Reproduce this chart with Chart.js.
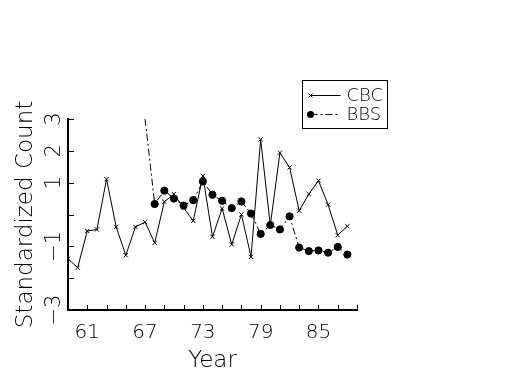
<!DOCTYPE html>
<html>
<head>
<meta charset="utf-8">
<script src="https://cdn.jsdelivr.net/npm/chart.js@4.4.1/dist/chart.umd.min.js"></script>
<style>
  html, body { margin: 0; padding: 0; background: #fff; }
  #wrap { width: 525px; height: 375px; }
</style>
</head>
<body>
<div id="wrap"><canvas id="c" width="525" height="375"></canvas></div>
<script>
// years and standardized counts
const cbcYears = [59, 60, 61, 62, 63, 64, 65, 66, 67, 68, 69, 70, 71, 72, 73, 74, 75, 76, 77, 78, 79, 80, 81, 82, 83, 84, 85, 86, 87, 88];
const cbcValues = [-1.39, -1.67, -0.52, -0.47, 1.11, -0.39, -1.28, -0.39, -0.24, -0.89, 0.40, 0.64, 0.21, -0.20, 1.21, -0.70, 0.19, -0.94, 0.00, -1.33, 2.36, -0.34, 1.94, 1.48, 0.12, 0.64, 1.06, 0.31, -0.65, -0.37];
const bbsYears = [67, 68, 69, 70, 71, 72, 73, 74, 75, 76, 77, 78, 79, 80, 81, 82, 83, 84, 85, 86, 87, 88];
const bbsValues = [3.0, 0.33, 0.75, 0.50, 0.28, 0.45, 1.04, 0.62, 0.43, 0.20, 0.41, 0.03, -0.61, -0.33, -0.47, -0.06, -1.04, -1.15, -1.13, -1.20, -1.02, -1.26];
const xTickLabels = [61, 67, 73, 79, 85];
const yTickLabels = [3, 2, 1, -1, -3];
const seriesNames = ['CBC', 'BBS'];

const FONT = "'DejaVu Sans', sans-serif";

// tick marks drawn inside the axes, y labels rotated, boxed legend
const axesDecor = {
  id: 'axesDecor',
  afterDraw(chart) {
    const ctx = chart.ctx;
    const xs = chart.scales.x, ys = chart.scales.y;
    const a = chart.chartArea;
    ctx.save();
    ctx.strokeStyle = '#000';
    ctx.lineWidth = 1;
    ctx.beginPath();
    xs.ticks.forEach(t => {
      const px = Math.round(xs.getPixelForValue(t.value)) + 0.5;
      ctx.moveTo(px, a.bottom);
      ctx.lineTo(px, a.bottom - 5);
    });
    ys.ticks.forEach(t => {
      const py = Math.round(ys.getPixelForValue(t.value)) + 0.5;
      ctx.moveTo(a.left, py);
      ctx.lineTo(a.left + 6, py);
    });
    ctx.stroke();

    ctx.fillStyle = '#000';
    ctx.font = "200 21px " + FONT;
    ctx.textAlign = 'center';
    ctx.textBaseline = 'middle';
    yTickLabels.forEach(v => {
      const py = ys.getPixelForValue(v);
      ctx.save();
      ctx.translate(55, py);
      ctx.rotate(-Math.PI / 2);
      ctx.fillText(v < 0 ? '\u2212' + Math.abs(v) : String(v), 0, 0);
      ctx.restore();
    });

    // legend
    const bx = 302.5, by = 80.5, bw = 85, bh = 48;
    ctx.lineWidth = 1;
    ctx.strokeRect(bx, by, bw, bh);
    ctx.font = "200 18px " + FONT;
    ctx.textAlign = 'left';
    chart.data.datasets.forEach((ds, i) => {
      const ly = by + 15 + i * 19;
      ctx.save();
      ctx.strokeStyle = '#000';
      ctx.lineWidth = 1;
      ctx.setLineDash(ds.borderDash || []);
      ctx.beginPath();
      ctx.moveTo(bx + 8, ly);
      ctx.lineTo(bx + 38, ly);
      ctx.stroke();
      ctx.setLineDash([]);
      if (i === 0) {
        ctx.beginPath();
        ctx.moveTo(bx + 6, ly - 2); ctx.lineTo(bx + 10, ly + 2);
        ctx.moveTo(bx + 6, ly + 2); ctx.lineTo(bx + 10, ly - 2);
        ctx.stroke();
      } else {
        ctx.beginPath();
        ctx.arc(bx + 8, ly, 3.5, 0, Math.PI * 2);
        ctx.fill();
      }
      ctx.restore();
      ctx.fillText(seriesNames[i], bx + 44, ly + 1);
    });
    ctx.restore();
  }
};

new Chart(document.getElementById('c'), {
  type: 'line',
  data: {
    datasets: [
      {
        label: seriesNames[0],
        data: cbcYears.map((x, i) => ({ x: x, y: cbcValues[i] })),
        borderColor: '#000',
        borderWidth: 1,
        pointStyle: 'crossRot',
        pointRadius: 3,
        pointBorderColor: '#000',
        pointBorderWidth: 1,
        tension: 0
      },
      {
        label: seriesNames[1],
        data: bbsYears.map((x, i) => ({ x: x, y: bbsValues[i] })),
        borderColor: '#000',
        borderWidth: 1,
        borderDash: [7, 3, 2, 3],
        pointStyle: 'circle',
        pointRadius: bbsYears.map((x, i) => i === 0 ? 0 : 3.6),
        pointBackgroundColor: '#000',
        pointBorderColor: '#000',
        tension: 0
      }
    ]
  },
  options: {
    responsive: false,
    animation: false,
    layout: { padding: { top: 119, right: 168, left: 0, bottom: 0 } },
    plugins: { legend: { display: false }, tooltip: { enabled: false } },
    scales: {
      x: {
        type: 'linear',
        min: 59, max: 89,
        afterFit: s => { s.height = 65; },
        grid: { display: false },
        border: { display: true, color: '#000', width: 2 },
        ticks: {
          stepSize: 2, autoSkip: false, maxRotation: 0, padding: 3,
          color: '#000', font: { family: FONT, size: 20, weight: 200 },
          callback: v => xTickLabels.includes(v) ? String(v) : ''
        },
        title: {
          display: true, text: 'Year', color: '#000',
          font: { family: FONT, size: 23, weight: 200 },
          padding: { top: 1, bottom: 0 }
        }
      },
      y: {
        min: -3, max: 3,
        afterFit: s => { s.width = 68; },
        grid: { display: false },
        border: { display: true, color: '#000', width: 2 },
        ticks: { stepSize: 1, display: false },
        title: {
          display: true, text: 'Standardized Count', color: '#000',
          font: { family: FONT, size: 23, weight: 200 },
          padding: { top: 12, bottom: 0 }
        }
      }
    }
  },
  plugins: [axesDecor]
});
</script>
</body>
</html>
